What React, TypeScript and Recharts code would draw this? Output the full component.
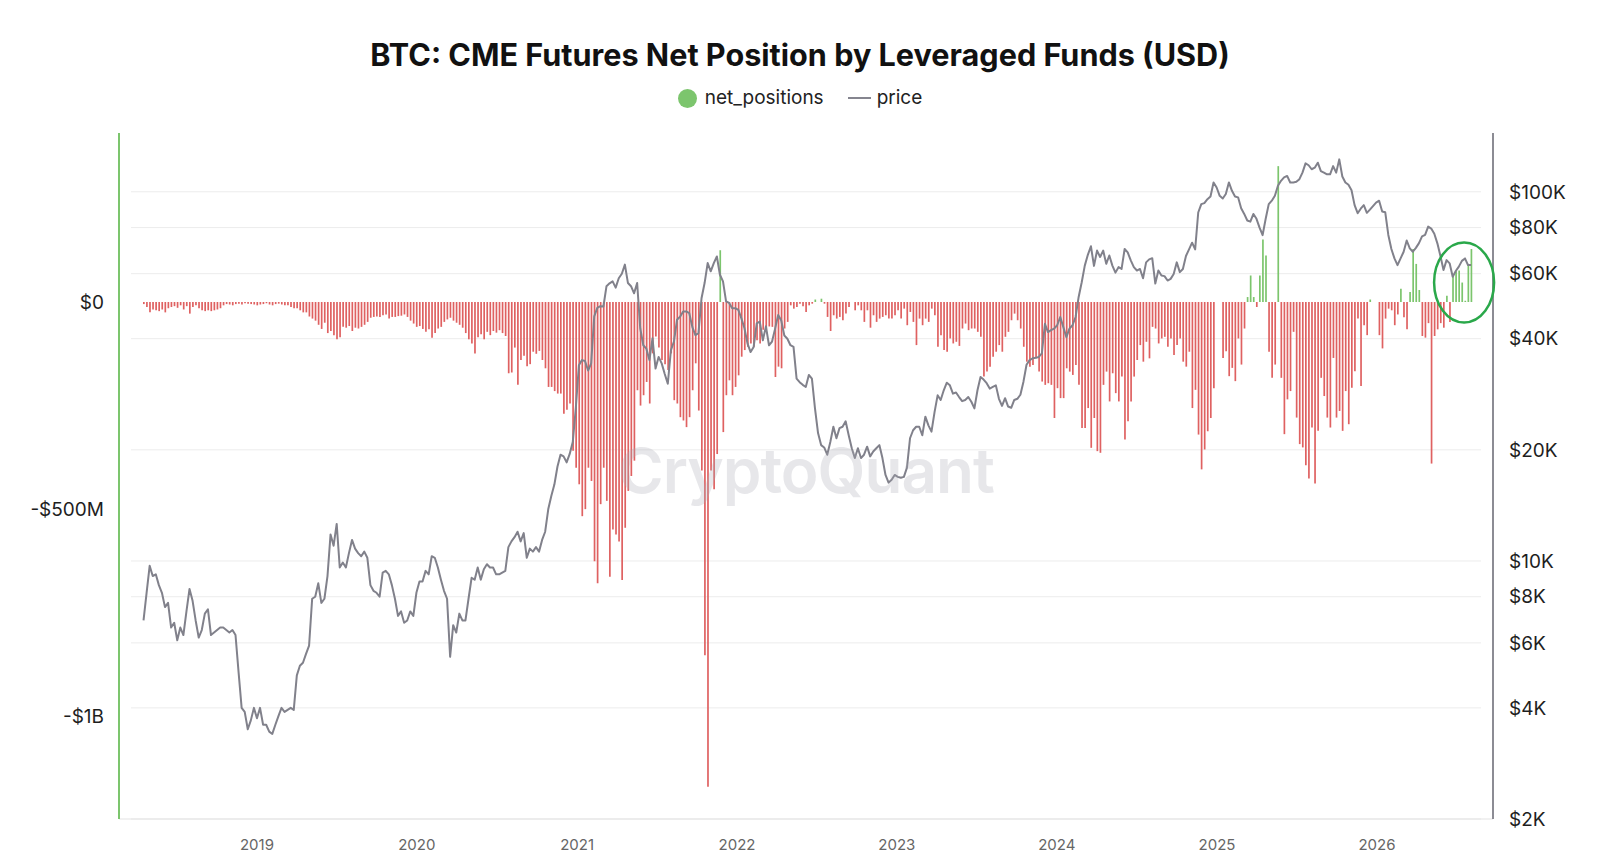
import React from 'react';
import { ComposedChart, Bar, Line, XAxis, YAxis, CartesianGrid, Cell, ReferenceDot } from 'recharts';

// weekly COT snapshots, starting with this Tuesday
const FIRST_WEEK = Date.UTC(2018, 3, 17);
const WEEK_MS = 7 * 24 * 3600 * 1000;

// leveraged funds net position, $M per week
const netPos2018 = [-5, -12, -25, -18, -20, -22, -18, -25, -15, -12, -10, -14, -8, -18, -10, -28, -12, -8, -15, -20, -22, -20, -22, -20, -18, -15, -8, -5, -6, -8, -5, -4, -6, -3, -4, -5, -6];
const netPos2019 = [-8, -6, -5, -3, -6, -8, -5, -4, -6, -8, -8, -12, -15, -15, -20, -25, -25, -35, -40, -45, -55, -65, -50, -75, -70, -80, -90, -85, -60, -62, -58, -70, -62, -64, -60, -55, -48, -38, -36, -35, -36, -32, -30, -40, -36, -36, -34, -33, -30, -36, -45, -52, -60];
const netPos2020 = [-58, -65, -72, -66, -86, -75, -64, -60, -48, -42, -38, -45, -50, -55, -62, -75, -90, -100, -124, -85, -78, -90, -72, -80, -70, -74, -68, -75, -82, -172, -170, -110, -200, -140, -130, -155, -150, -120, -125, -118, -140, -160, -205, -205, -215, -221, -221, -270, -260, -245, -359, -400];
const netPos2021 = [-440, -517, -500, -400, -432, -626, -679, -488, -400, -480, -663, -549, -561, -578, -671, -545, -456, -420, -383, -213, -250, -225, -193, -245, -124, -83, -110, -140, -150, -164, -124, -237, -245, -278, -286, -302, -278, -213, -148, -262, -407, -853, -1170, -407, -452, -367, 125, -314, -225, -189, -225, -205];
const netPos2022 = [-177, -132, -116, -108, -100, -108, -92, -100, -67, -67, -59, -60, -181, -156, -160, -64, -48, -8, -16, -12, -4, -10, -24, -8, -4, 6, 0, 8, -4, -36, -70, -32, -40, -36, -44, -28, -12, 0, -20, -8, -20, -48, -20, -62, -32, -48, -40, -36, -32, -40, -40, -32];
const netPos2023 = [-20, -40, -16, -56, -24, -48, -104, -40, -56, -40, -48, -16, -32, -108, -80, -116, -120, -88, -100, -96, -106, -64, -52, -68, -64, -64, -72, -84, -180, -168, -156, -132, -120, -104, -120, -84, -72, -44, -28, -44, -64, -108, -144, -156, -152, -136, -168, -192, -200, -196, -200, -280];
const netPos2024 = [-208, -232, -232, -160, -168, -176, -152, -200, -304, -304, -256, -352, -280, -360, -364, -200, -168, -240, -172, -220, -240, -180, -332, -288, -240, -180, -140, -104, -144, -96, -136, -60, -64, -100, -88, -84, -108, -88, -128, -104, -88, -144, -156, -120, -256, -212, -320, -404, -356, -312, -280, -208, 0];
const netPos2025 = [0, -135, -119, -179, -159, -191, -88, -151, -64, 12, 64, 12, -12, 64, 151, 112, -120, -183, -151, 328, -183, -319, -235, -215, -72, -279, -343, -351, -394, -426, -303, -438, -311, -183, -227, -279, -303, -135, -279, -263, -311, -215, -295, -207, -167, -40, -203, -56, -80, 6, 0, 0];
const netPos2026 = [-80, -112, -40, -16, -20, -56, -30, 32, -37, -66, 24, 128, 92, 29, -82, -86, -51, -390, -82, -66, -51, -62, 15, -48, 66, 74, 76, 47, 3, 92, 128];

// BTC price, $K per week
const price2018 = [6.9, 8.2, 9.7, 9.1, 9.2, 8.6, 8.2, 7.5, 7.7, 6.6, 6.8, 6.1, 6.6, 6.3, 7.3, 8.4, 7.8, 6.9, 6.2, 6.5, 7.2, 7.4, 6.3, 6.4, 6.5, 6.6, 6.6, 6.5, 6.4, 6.5, 6.3, 5.0, 4.0, 3.9, 3.5, 3.7, 4.0];
const price2019 = [3.75, 4.0, 3.6, 3.6, 3.45, 3.4, 3.6, 3.8, 4.0, 3.9, 3.95, 4.0, 3.95, 4.9, 5.2, 5.3, 5.6, 5.9, 7.9, 8.0, 8.7, 7.7, 7.9, 9.1, 11.8, 11.0, 12.6, 9.6, 9.9, 9.6, 10.5, 11.4, 10.8, 10.5, 10.3, 10.6, 10.2, 8.6, 8.3, 8.2, 8.0, 9.3, 9.4, 9.2, 8.6, 7.9, 7.1, 7.3, 6.8, 6.9, 7.3, 7.1, 8.2];
const price2020 = [8.8, 8.8, 9.4, 9.2, 10.3, 10.2, 9.6, 8.9, 8.3, 7.9, 5.5, 6.7, 6.4, 7.2, 6.9, 6.9, 7.9, 9.0, 8.9, 9.6, 8.9, 9.5, 9.8, 9.6, 9.6, 9.2, 9.2, 9.3, 9.4, 10.9, 11.3, 11.6, 12.0, 11.3, 11.9, 10.2, 10.8, 10.6, 10.9, 10.6, 11.4, 12.0, 13.8, 15.0, 16.1, 18.0, 19.4, 19.2, 18.5, 19.5, 21.0, 26.0];
const price2021 = [33.9, 35.0, 34.8, 32.8, 34.3, 46.0, 48.5, 49.0, 48.9, 55.5, 56.5, 57.2, 55.0, 58.3, 60.0, 63.5, 56.6, 55.5, 53.1, 56.6, 42.7, 38.4, 37.6, 35.0, 40.1, 33.2, 35.7, 34.3, 32.1, 30.2, 37.2, 39.3, 45.0, 45.9, 47.4, 47.4, 46.9, 43.0, 40.9, 41.4, 51.5, 56.6, 64.1, 60.9, 64.1, 66.8, 59.6, 57.2, 50.5, 50.0, 48.4, 48.4];
const price2022 = [47.9, 45.4, 42.7, 38.8, 36.8, 38.0, 44.0, 44.5, 39.6, 43.2, 38.4, 39.3, 42.6, 46.4, 44.8, 40.8, 40.0, 38.4, 38.0, 31.2, 30.5, 30.0, 29.6, 31.9, 31.2, 25.9, 22.2, 20.6, 20.3, 19.4, 21.0, 23.1, 21.5, 22.9, 23.1, 23.9, 21.9, 20.2, 19.0, 20.2, 19.0, 19.4, 20.4, 19.2, 19.8, 20.2, 20.6, 19.0, 17.1, 16.3, 16.6, 17.1];
const price2023 = [16.9, 16.8, 16.9, 17.9, 21.5, 22.6, 23.1, 23.1, 21.9, 24.6, 23.3, 22.4, 25.3, 28.1, 27.3, 29.0, 30.4, 29.9, 28.4, 28.6, 27.8, 27.1, 27.3, 27.8, 27.0, 25.9, 29.0, 31.5, 31.0, 30.3, 29.3, 29.6, 29.9, 27.5, 26.3, 27.6, 26.2, 26.0, 27.3, 27.5, 28.2, 30.6, 34.0, 35.0, 35.4, 35.5, 35.7, 36.5, 43.9, 41.7, 42.2, 42.6];
const price2024 = [43.5, 45.8, 43.0, 40.4, 42.6, 43.5, 45.8, 51.9, 56.9, 63.1, 67.5, 71.2, 63.0, 69.3, 66.6, 69.3, 63.8, 67.2, 63.1, 60.4, 62.5, 61.8, 70.0, 68.5, 65.2, 62.5, 61.2, 61.8, 58.3, 64.4, 65.6, 66.1, 56.4, 61.2, 59.3, 59.1, 57.5, 58.1, 59.9, 64.4, 60.6, 61.8, 67.0, 69.8, 72.8, 69.8, 87.9, 92.6, 93.2, 95.5, 97.1, 106.0, 102.7];
const price2025 = [97.5, 95.9, 98.6, 106.0, 100.6, 97.1, 96.6, 90.2, 87.1, 83.6, 83.0, 87.1, 84.5, 80.0, 76.3, 84.5, 92.6, 94.6, 97.6, 103.8, 107.1, 109.4, 110.4, 106.0, 106.0, 106.4, 108.2, 112.7, 119.4, 118.0, 115.1, 116.2, 119.9, 113.8, 112.7, 111.5, 111.5, 117.4, 112.7, 122.4, 110.0, 106.0, 104.5, 101.0, 92.0, 87.5, 90.0, 92.0, 87.7, 89.5, 91.5, 93.5];
const price2026 = [94.6, 88.4, 88.0, 76.4, 70.0, 66.0, 63.3, 66.0, 68.8, 73.8, 70.3, 68.8, 70.5, 72.6, 75.7, 76.4, 80.5, 79.5, 77.0, 72.5, 67.0, 61.4, 65.3, 64.0, 58.9, 61.0, 62.7, 65.0, 66.0, 63.3, 63.3];

const yearLabels = [2019, 2020, 2021, 2022, 2023, 2024, 2025, 2026];
const usdTicks = [0, -500e6, -1e9];
const priceTicks = [2000, 4000, 6000, 8000, 10000, 20000, 40000, 60000, 80000, 100000];

// the green ring drawn around the latest weeks
const ringDate = Date.UTC(2026, 6, 19);
const ringPrice = 56800;

const RED = '#df6161';
const GREEN = '#7cc56d';

const netPositions = [
  ...netPos2018, ...netPos2019, ...netPos2020, ...netPos2021, ...netPos2022,
  ...netPos2023, ...netPos2024, ...netPos2025, ...netPos2026,
];
const prices = [
  ...price2018, ...price2019, ...price2020, ...price2021, ...price2022,
  ...price2023, ...price2024, ...price2025, ...price2026,
];

const data = netPositions.map((v, i) => ({
  date: FIRST_WEEK + i * WEEK_MS,
  net_positions: v * 1e6,
  price: prices[i] * 1000,
}));

const fmtUsd = (v: number) => {
  if (v === 0) return '$0';
  const a = Math.abs(v);
  return a >= 1e9 ? `-$${a / 1e9}B` : `-$${a / 1e6}M`;
};

// grid lines stop short of the axes; no line along the top edge
const gridLine = (props: any) => {
  if (props.y1 < 140) return <g key={`grid-${props.index}`} />;
  return (
    <line
      key={`grid-${props.index}`}
      x1={props.x1 + 12}
      x2={props.x2 - 12}
      y1={props.y1}
      y2={props.y2}
      stroke="#ececec"
      strokeWidth={1}
    />
  );
};

export default function App() {
  return (
    <div
      style={{
        position: 'absolute',
        left: 0,
        top: 0,
        width: 1600,
        height: 863,
        background: '#fff',
        fontFamily: 'Inter, "Noto Sans", sans-serif',
      }}
    >
      <div
        style={{
          position: 'absolute',
          top: 39,
          width: 1600,
          textAlign: 'center',
          fontSize: 30.6,
          lineHeight: '32px',
          fontWeight: 700,
          color: '#111',
        }}
      >
        BTC: CME Futures Net Position by Leveraged Funds (USD)
      </div>

      <div
        style={{
          position: 'absolute',
          top: 87,
          width: 1600,
          display: 'flex',
          justifyContent: 'center',
          alignItems: 'center',
          fontSize: 19,
          lineHeight: '22px',
          color: '#222',
        }}
      >
        <span style={{ width: 19, height: 19, borderRadius: '50%', background: GREEN, marginRight: 8 }} />
        <span>net_positions</span>
        <span style={{ width: 23, height: 2, background: '#85858f', marginLeft: 24, marginRight: 6 }} />
        <span>price</span>
      </div>

      <ComposedChart width={1600} height={863} data={data} margin={{ top: 133, right: 0, bottom: 0, left: 0 }}>
        <CartesianGrid yAxisId={0} vertical={false} horizontal={gridLine} />
        <XAxis
          dataKey="date"
          type="number"
          scale="time"
          domain={[Date.UTC(2018, 1, 20), Date.UTC(2026, 8, 23)]}
          ticks={yearLabels.map((y) => Date.UTC(y, 0, 1))}
          tickFormatter={(v: number) => String(new Date(v).getUTCFullYear())}
          height={44}
          axisLine={{ stroke: '#e3e3e3' }}
          tickLine={false}
          tickSize={0}
          tickMargin={20}
          tick={{ fill: '#666', fontSize: 15 }}
          allowDataOverflow
        />
        <YAxis
          yAxisId="usd"
          orientation="left"
          width={119}
          domain={[-1.248e9, 0.408e9]}
          ticks={usdTicks}
          tickFormatter={fmtUsd}
          axisLine={{ stroke: GREEN, strokeWidth: 2 }}
          tickLine={false}
          tickSize={0}
          tickMargin={15}
          tick={{ fill: '#1e1e1e', fontSize: 19 }}
          allowDataOverflow
        />
        <YAxis
          orientation="right"
          width={107}
          scale="log"
          domain={[2000, 144300]}
          ticks={priceTicks}
          tickFormatter={(v: number) => `$${v / 1000}K`}
          axisLine={{ stroke: '#8c8c94', strokeWidth: 2 }}
          tickLine={false}
          tickSize={0}
          tickMargin={16}
          tick={{ fill: '#1e1e1e', fontSize: 19, textAnchor: 'start' }}
          allowDataOverflow
        />
        <Bar yAxisId="usd" dataKey="net_positions" barSize={1.7} isAnimationActive={false}>
          {data.map((d, i) => (
            <Cell key={i} fill={d.net_positions >= 0 ? GREEN : RED} />
          ))}
        </Bar>
        <Line
          dataKey="price"
          stroke="#81818b"
          strokeWidth={2}
          dot={false}
          activeDot={false}
          strokeLinejoin="round"
          isAnimationActive={false}
        />
        <ReferenceDot
          x={ringDate}
          y={ringPrice}
          ifOverflow="visible"
          shape={(p: any) => (
            <ellipse cx={p.cx} cy={p.cy} rx={30} ry={40} fill="none" stroke="#2aa84a" strokeWidth={2.5} />
          )}
        />
      </ComposedChart>

      <div
        style={{
          position: 'absolute',
          left: 0,
          top: 433,
          width: 1612,
          textAlign: 'center',
          fontSize: 62,
          lineHeight: '76px',
          fontWeight: 600,
          letterSpacing: -1,
          color: 'rgba(170,170,180,0.28)',
          pointerEvents: 'none',
        }}
      >
        CryptoQuant
      </div>
    </div>
  );
}
